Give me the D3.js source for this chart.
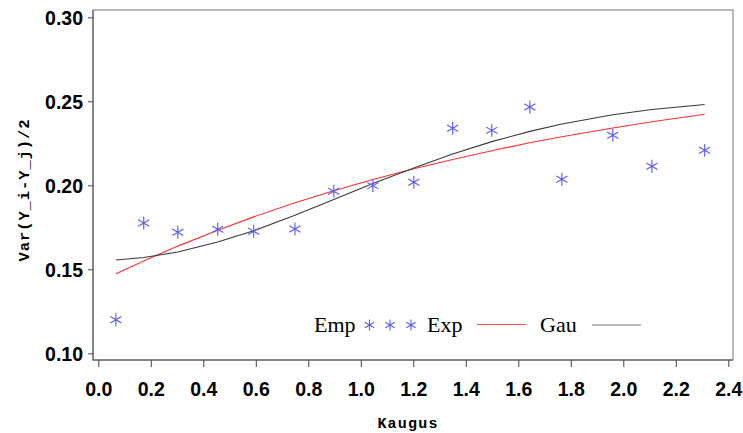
<!DOCTYPE html>
<html><head><meta charset="utf-8">
<script src="https://cdn.jsdelivr.net/npm/d3@7"></script>
<style>body{margin:0;background:#fff}svg{display:block}</style>
</head><body>
<svg id="c" width="743" height="433"></svg>
<script>
// Lag distances (Kaugus)
const lag = [0.067,0.173,0.303,0.455,0.592,0.749,0.897,1.046,1.202,1.350,1.499,1.644,1.766,1.960,2.109,2.310];
// Empirical semivariogram
const empirical = [0.1200,0.1775,0.1720,0.1738,0.1726,0.1740,0.1964,0.1998,0.2018,0.2340,0.2327,0.2466,0.2036,0.2298,0.2113,0.2208];
// Fitted exponential model
const expFit = [0.1474,0.1550,0.1638,0.1733,0.1812,0.1896,0.1968,0.2034,0.2099,0.2154,0.2206,0.2253,0.2289,0.2341,0.2378,0.2423];
// Fitted gaussian model
const gauFit = [0.1555,0.1570,0.1603,0.1663,0.1730,0.1822,0.1915,0.2011,0.2103,0.2186,0.2260,0.2321,0.2365,0.2420,0.2451,0.2481];
const xTicks = [0.0,0.2,0.4,0.6,0.8,1.0,1.2,1.4,1.6,1.8,2.0,2.2,2.4];
const yTicks = [0.10,0.15,0.20,0.25,0.30];
const legendLabels = ["Emp","Exp","Gau"];

const svg = d3.select("#c");
const frame = {left:93, right:733, top:10, bottom:360};
const x = d3.scaleLinear().domain([0,2.4]).range([98.3,728.3]);
const y = d3.scaleLinear().domain([0.10,0.30]).range([353.3,17.3]);

// frame
svg.append("rect").attr("x",frame.left).attr("y",frame.top)
  .attr("width",frame.right-frame.left).attr("height",frame.bottom-frame.top)
  .attr("fill","none").attr("stroke","#8a8a8a").attr("stroke-width",1.2);

// x axis
const gx = svg.append("g").attr("transform",`translate(0,${frame.bottom})`)
  .call(d3.axisBottom(x).tickValues(xTicks).tickSize(7).tickPadding(0).tickFormat(d3.format(".1f")));
gx.select(".domain").attr("stroke","#555").attr("d",`M${frame.left},0H${frame.right}`);
gx.selectAll(".tick line").attr("stroke","#444");
gx.selectAll(".tick text").attr("y",35.5).attr("dy",null)
  .style("font-family","'Liberation Sans',Arial,sans-serif").style("font-weight","bold")
  .style("font-size","19.5px").attr("fill","#000");

// y axis
const gy = svg.append("g").attr("transform",`translate(${frame.left},0)`)
  .call(d3.axisLeft(y).tickValues(yTicks).tickSize(5).tickPadding(5).tickFormat(d3.format(".2f")));
gy.select(".domain").attr("stroke","#555").attr("d",`M0,${frame.top}V${frame.bottom}`);
gy.selectAll(".tick line").attr("stroke","#444");
gy.selectAll(".tick text").attr("dy","0.38em")
  .style("font-family","'Liberation Sans',Arial,sans-serif").style("font-weight","bold")
  .style("font-size","19.5px").attr("fill","#000");

// axis titles
svg.append("text").attr("x",408).attr("y",427.5).attr("text-anchor","middle")
  .style("font-family","'Liberation Mono','Courier New',monospace").style("font-weight","bold")
  .style("font-size","15px").style("letter-spacing","1.2px").text("Kaugus");
svg.append("text").attr("transform","translate(29,190) rotate(-90)").attr("text-anchor","middle")
  .style("font-family","'Liberation Mono','Courier New',monospace").style("font-weight","bold")
  .style("font-size","15.5px").style("letter-spacing","0.9px").text("Var(Y_i-Y_j)/2");

// fitted lines
const line = (vals) => d3.line().x((d,i)=>x(lag[i])).y(d=>y(d))(vals);
svg.append("path").attr("d",line(expFit)).attr("fill","none").attr("stroke","#ff3030").attr("stroke-width",1.1);
svg.append("path").attr("d",line(gauFit)).attr("fill","none").attr("stroke","#3a3a3a").attr("stroke-width",1.1);

// empirical points
const star = d3.symbol().type(d3.symbolAsterisk).size(118);
const starColor = "#5c5cff";
svg.append("g").selectAll("path").data(empirical).join("path")
  .attr("transform",(d,i)=>`translate(${x(lag[i])},${y(d)})`)
  .attr("d",star).attr("fill","none").attr("stroke",starColor).attr("stroke-width",1.15);

// legend
const lg = svg.append("g");
const lfont = (s)=>s.style("font-family","'Liberation Serif','Times New Roman',serif").style("font-size","22px").attr("fill","#000");
lg.append("text").attr("x",314).attr("y",332).text(legendLabels[0]).call(lfont);
[369.5,390,411].forEach(cx=>{
  lg.append("path").attr("transform",`translate(${cx},325)`).attr("d",d3.symbol().type(d3.symbolAsterisk).size(82))
    .attr("fill","none").attr("stroke",starColor).attr("stroke-width",1.1);
});
lg.append("text").attr("x",427).attr("y",332).text(legendLabels[1]).call(lfont);
lg.append("line").attr("x1",477).attr("x2",526).attr("y1",324.5).attr("y2",324.5).attr("stroke","#ff5050").attr("stroke-width",1.1);
lg.append("text").attr("x",540).attr("y",332).text(legendLabels[2]).call(lfont);
lg.append("line").attr("x1",592).attr("x2",641).attr("y1",325).attr("y2",325).attr("stroke","#777").attr("stroke-width",1.1);
</script>
</body></html>
